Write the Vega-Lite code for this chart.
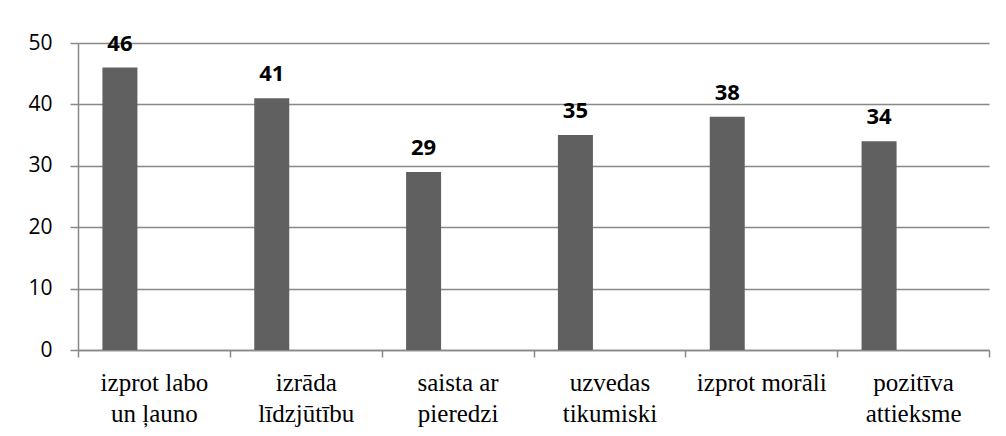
{
  "$schema": "https://vega.github.io/schema/vega-lite/v6.json",
  "autosize": {"type": "none"},
  "width": 911,
  "height": 307,
  "padding": {"left": 78, "top": 43, "right": 17, "bottom": 86},
  "background": "white",
  "data": {
    "values": [
      {"kategorija": "izprot labo un ļauno", "vertiba": 46},
      {"kategorija": "izrāda līdzjūtību", "vertiba": 41},
      {"kategorija": "saista ar pieredzi", "vertiba": 29},
      {"kategorija": "uzvedas tikumiski", "vertiba": 35},
      {"kategorija": "izprot morāli", "vertiba": 38},
      {"kategorija": "pozitīva attieksme", "vertiba": 34}
    ]
  },
  "encoding": {
    "x": {
      "field": "kategorija",
      "type": "nominal",
      "sort": null,
      "scale": {"paddingInner": 0, "paddingOuter": 0},
      "axis": {
        "title": null,
        "labelAngle": 0,
        "tickBand": "extent",
        "tickSize": 7,
        "tickColor": "#888888",
        "tickWidth": 1.5,
        "domainColor": "#888888",
        "domainWidth": 1.5,
        "grid": false,
        "labelFont": "Liberation Serif",
        "labelFontSize": 25,
        "labelColor": "#000000",
        "labelPadding": 13,
        "labelLineHeight": 31,
        "labelLimit": 300,
        "labelExpr": "datum.value == 'izprot labo un ļauno' ? ['izprot labo', 'un ļauno'] : datum.value == 'izrāda līdzjūtību' ? ['izrāda', 'līdzjūtību'] : datum.value == 'saista ar pieredzi' ? ['saista ar', 'pieredzi'] : datum.value == 'uzvedas tikumiski' ? ['uzvedas', 'tikumiski'] : datum.value == 'pozitīva attieksme' ? ['pozitīva', 'attieksme'] : datum.value"
      }
    },
    "y": {
      "field": "vertiba",
      "type": "quantitative",
      "scale": {"domain": [0, 50], "nice": false},
      "axis": {
        "title": null,
        "values": [0, 10, 20, 30, 40, 50],
        "tickSize": 8,
        "tickColor": "#888888",
        "tickWidth": 1.5,
        "domainColor": "#888888",
        "domainWidth": 1.5,
        "gridColor": "#888888",
        "gridWidth": 1.5,
        "labelFont": "Open Sans",
        "labelFontSize": 21,
        "labelColor": "#000000",
        "labelPadding": 18
      }
    }
  },
  "layer": [
    {
      "mark": {"type": "bar", "width": 35, "xOffset": -34, "color": "#606060"}
    },
    {
      "mark": {
        "type": "text",
        "xOffset": -34,
        "dy": -17,
        "baseline": "alphabetic",
        "font": "Open Sans",
        "fontSize": 22,
        "fontWeight": "bold",
        "color": "#000000"
      },
      "encoding": {"text": {"field": "vertiba", "type": "quantitative"}}
    }
  ],
  "config": {"view": {"stroke": null}}
}
